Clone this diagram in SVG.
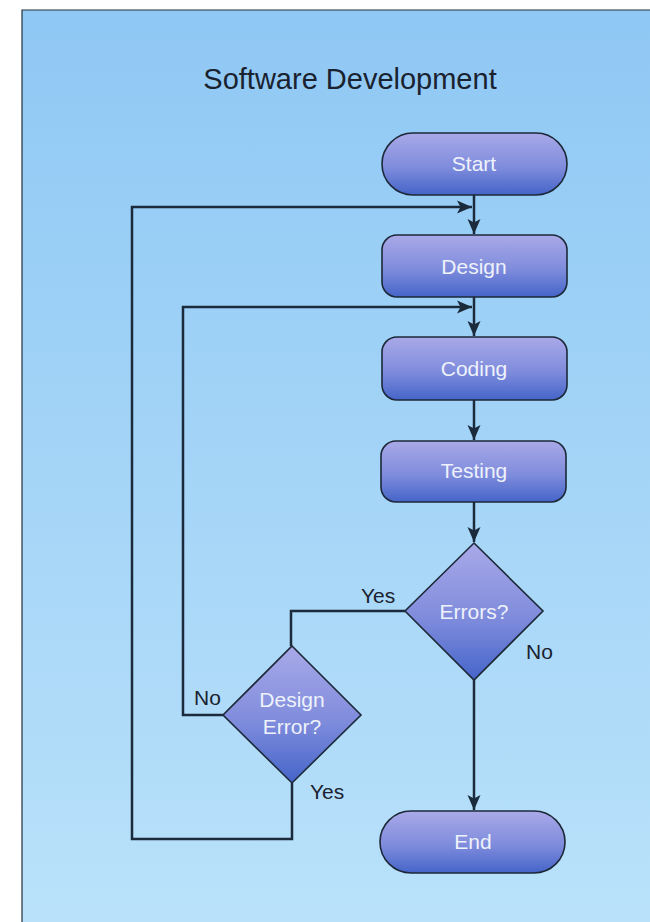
<svg xmlns="http://www.w3.org/2000/svg" width="650" height="922" viewBox="0 0 650 922">
<defs>
<linearGradient id="bg" x1="0" y1="0" x2="0" y2="1">
<stop offset="0" stop-color="#8fc8f4"/>
<stop offset="1" stop-color="#b9e1fa"/>
</linearGradient>
<linearGradient id="nodefill" x1="0" y1="0" x2="0" y2="1">
<stop offset="0" stop-color="#a9a9e8"/>
<stop offset="0.55" stop-color="#7f8cdc"/>
<stop offset="1" stop-color="#4565c9"/>
</linearGradient>
<marker id="arrow" markerUnits="userSpaceOnUse" markerWidth="16" markerHeight="16" viewBox="0 0 16 16" refX="15" refY="8" orient="auto">
<path d="M0,1.5 L15,8 L0,14.5 L3.5,8 Z" fill="#1c2b3c"/>
</marker>
<style>
.node{fill:url(#nodefill);stroke:#1c2838;stroke-width:1.6}
.lbl{font-family:"Liberation Sans","DejaVu Sans",sans-serif;font-size:21px;fill:#eef2fb;text-anchor:middle}
.edge{fill:none;stroke:#1c2b3c;stroke-width:2.5}
.elbl{font-family:"Liberation Sans","DejaVu Sans",sans-serif;font-size:21px;fill:#1a2230}
.title{font-family:"Liberation Sans","DejaVu Sans",sans-serif;font-size:29px;fill:#1a2230;text-anchor:middle}
</style>
</defs>
<rect x="0" y="0" width="650" height="922" fill="#ffffff"/>
<rect x="22" y="10" width="628" height="912" fill="url(#bg)"/>
<path d="M22,922 L22,10 L650,10" fill="none" stroke="#24303c" stroke-width="1.2"/>
<text class="title" x="350" y="89">Software Development</text>
<g id="connectors">
<path class="edge" d="M474,195 L474,234" marker-end="url(#arrow)"/>
<path class="edge" d="M474,297 L474,336" marker-end="url(#arrow)"/>
<path class="edge" d="M474,400 L474,440" marker-end="url(#arrow)"/>
<path class="edge" d="M474,502 L474,542" marker-end="url(#arrow)"/>
<path class="edge" d="M474,680 L474,810" marker-end="url(#arrow)"/>
<path class="edge" d="M405,611 L291,611 L291,646"/>
<path class="edge" d="M223,715 L183,715 L183,307 L472,307" marker-end="url(#arrow)"/>
<path class="edge" d="M292,783 L292,839 L132,839 L132,207 L472,207" marker-end="url(#arrow)"/>
<text class="elbl" x="361" y="603">Yes</text>
<text class="elbl" x="526" y="659">No</text>
<text class="elbl" x="194" y="705">No</text>
<text class="elbl" x="310" y="799">Yes</text>
</g>
<g id="start">
<rect class="node" x="382" y="133" width="185" height="62" rx="31" ry="31"/>
<text class="lbl" x="474" y="171">Start</text>
</g>
<g id="design">
<rect class="node" x="382" y="235" width="185" height="62" rx="15" ry="15"/>
<text class="lbl" x="474" y="274">Design</text>
</g>
<g id="coding">
<rect class="node" x="382" y="337" width="185" height="63" rx="15" ry="15"/>
<text class="lbl" x="474" y="376">Coding</text>
</g>
<g id="testing">
<rect class="node" x="381" y="441" width="185" height="61" rx="15" ry="15"/>
<text class="lbl" x="474" y="478">Testing</text>
</g>
<g id="errors">
<path class="node" d="M474,543 L543,611 L474,680 L405,611 Z"/>
<text class="lbl" x="474" y="619">Errors?</text>
</g>
<g id="design-error">
<path class="node" d="M292,646 L361,715 L292,783 L223,715 Z"/>
<text class="lbl" x="292" y="707">Design</text>
<text class="lbl" x="292" y="734">Error?</text>
</g>
<g id="end">
<rect class="node" x="380" y="811" width="185" height="62" rx="31" ry="31"/>
<text class="lbl" x="473" y="849">End</text>
</g>
</svg>
